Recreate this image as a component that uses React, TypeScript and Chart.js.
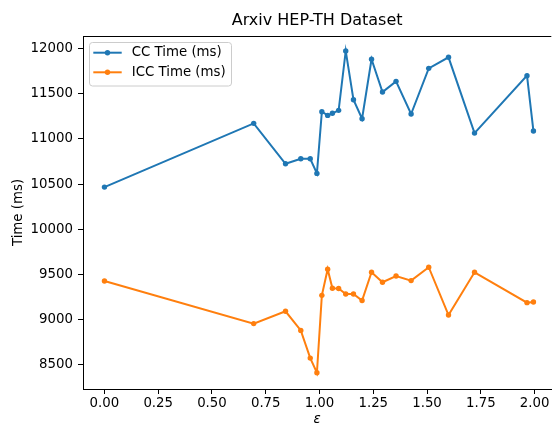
import React, { useEffect, useRef } from "react";
import { Chart, registerables } from "chart.js";

Chart.register(...registerables);

const epsilon = [0, 0.694, 0.842, 0.913, 0.957, 0.988, 1.011, 1.038, 1.06, 1.089, 1.122, 1.158, 1.198, 1.242, 1.293, 1.356, 1.426, 1.508, 1.6, 1.721, 1.965, 1.995];
const ccTime = [10467, 11173, 10725, 10781, 10781, 10619, 11302, 11261, 11284, 11317, 11975, 11435, 11224, 11882, 11520, 11638, 11276, 11782, 11904, 11065, 11701, 11088];
const iccTime = [9428, 8956, 9092, 8881, 8574, 8412, 9269, 9558, 9347, 9344, 9284, 9284, 9211, 9524, 9414, 9483, 9432, 9580, 9051, 9524, 9188, 9195];
const xTicks = [0, 0.25, 0.5, 0.75, 1.0, 1.25, 1.5, 1.75, 2.0];
const yTicks = [8500, 9000, 9500, 10000, 10500, 11000, 11500, 12000];
const seriesNames = ["CC Time (ms)", "ICC Time (ms)"];
const seriesColors = ["#1f77b4", "#ff7f0e"];

const FONT = "'DejaVu Sans', sans-serif";

const framePlugin = {
  id: "frame",
  afterDraw(chart: any) {
    const { ctx, chartArea: a } = chart;
    ctx.save();
    ctx.strokeStyle = "#000";
    ctx.lineWidth = 1;
    ctx.beginPath();
    ctx.moveTo(a.left, a.top + 0.5);
    ctx.lineTo(a.right, a.top + 0.5);
    ctx.stroke();
    ctx.restore();
  },
};

const legendPlugin = {
  id: "boxLegend",
  afterDraw(chart: any) {
    const { ctx, chartArea: a } = chart;
    const x0 = a.left + 6.5;
    const y0 = a.top + 6.5;
    const w = 142;
    const h = 43.5;
    const r = 3;
    ctx.save();
    ctx.beginPath();
    ctx.moveTo(x0 + r, y0);
    ctx.lineTo(x0 + w - r, y0);
    ctx.quadraticCurveTo(x0 + w, y0, x0 + w, y0 + r);
    ctx.lineTo(x0 + w, y0 + h - r);
    ctx.quadraticCurveTo(x0 + w, y0 + h, x0 + w - r, y0 + h);
    ctx.lineTo(x0 + r, y0 + h);
    ctx.quadraticCurveTo(x0, y0 + h, x0, y0 + h - r);
    ctx.lineTo(x0, y0 + r);
    ctx.quadraticCurveTo(x0, y0, x0 + r, y0);
    ctx.closePath();
    ctx.fillStyle = "rgba(255,255,255,0.8)";
    ctx.fill();
    ctx.strokeStyle = "#cccccc";
    ctx.lineWidth = 1;
    ctx.stroke();
    chart.data.datasets.forEach((ds: any, i: number) => {
      const y = a.top + 16.7 + i * 19.6;
      const lx0 = a.left + 10.3;
      const lx1 = a.left + 38.7;
      ctx.strokeStyle = ds.borderColor;
      ctx.lineWidth = 2;
      ctx.beginPath();
      ctx.moveTo(lx0, y);
      ctx.lineTo(lx1, y);
      ctx.stroke();
      ctx.fillStyle = ds.borderColor;
      ctx.beginPath();
      ctx.arc((lx0 + lx1) / 2, y, 2.7, 0, Math.PI * 2);
      ctx.fill();
      ctx.fillStyle = "#000";
      ctx.font = `13.33px ${FONT}`;
      ctx.textAlign = "left";
      ctx.textBaseline = "middle";
      ctx.fillText(ds.label, a.left + 48.7, y);
    });
    ctx.restore();
  },
};

export default function App() {
  const ref = useRef<HTMLCanvasElement>(null);
  useEffect(() => {
    if (!ref.current) return;
    const mk = (i: number, values: number[]) => ({
      label: seriesNames[i],
      data: epsilon.map((x, k) => ({ x, y: values[k] })),
      borderColor: seriesColors[i],
      backgroundColor: seriesColors[i],
      borderWidth: 2,
      pointRadius: 2.7,
      pointBorderWidth: 0,
      pointHoverRadius: 2.7,
      tension: 0,
      fill: false,
    });
    const chart = new Chart(ref.current, {
      type: "line",
      data: { datasets: [mk(0, ccTime), mk(1, iccTime)] },
      options: {
        animation: false,
        responsive: false,
        events: [],
        layout: { padding: { left: 0, right: 0, top: 0, bottom: 0 } },
        plugins: {
          legend: { display: false },
          tooltip: { enabled: false },
          title: {
            display: true,
            text: "Arxiv HEP-TH Dataset",
            fullSize: false,
            color: "#000",
            font: { family: FONT, size: 16, weight: "normal", lineHeight: 1.2 },
            padding: { top: 11, bottom: 5.8 },
          },
        },
        scales: {
          x: {
            type: "linear",
            min: -0.0998,
            max: 2.078,
            afterBuildTicks: (s: any) => {
              s.ticks = xTicks.map((v) => ({ value: v }));
            },
            afterFit: (s: any) => {
              s.height = 40;
            },
            grid: { drawOnChartArea: false, drawTicks: true, tickLength: 5, color: "#000", lineWidth: 1 },
            border: { display: true, color: "#000", width: 1 },
            ticks: {
              color: "#000",
              padding: 2,
              maxRotation: 0,
              font: { family: FONT, size: 13.33 },
              callback: (v: any) => Number(v).toFixed(2),
            },
            title: {
              display: true,
              text: "ε",
              color: "#000",
              font: { family: FONT, size: 13.33, style: "italic", lineHeight: 1.2 },
              padding: { top: 0, bottom: 1.5 },
            },
          },
          y: {
            type: "linear",
            min: 8232,
            max: 12140,
            afterBuildTicks: (s: any) => {
              s.ticks = yTicks.map((v) => ({ value: v }));
            },
            afterFit: (s: any) => {
              s.width = 83;
            },
            grid: { drawOnChartArea: false, drawTicks: true, tickLength: 5, color: "#000", lineWidth: 1 },
            border: { display: true, color: "#000", width: 1 },
            ticks: {
              color: "#000",
              padding: 5,
              font: { family: FONT, size: 13.33 },
              callback: (v: any) => String(v),
            },
            title: {
              display: true,
              text: "Time (ms)",
              color: "#000",
              font: { family: FONT, size: 13.33, lineHeight: 1.2 },
              padding: { top: 11, bottom: 0 },
            },
          },
        },
      },
      plugins: [framePlugin, legendPlugin],
    });
    return () => chart.destroy();
  }, []);
  return (
    <div style={{ position: "fixed", left: 0, top: 0, width: 554, height: 429, background: "#fff" }}>
      <canvas ref={ref} width={554} height={429} style={{ display: "block" }} />
    </div>
  );
}
